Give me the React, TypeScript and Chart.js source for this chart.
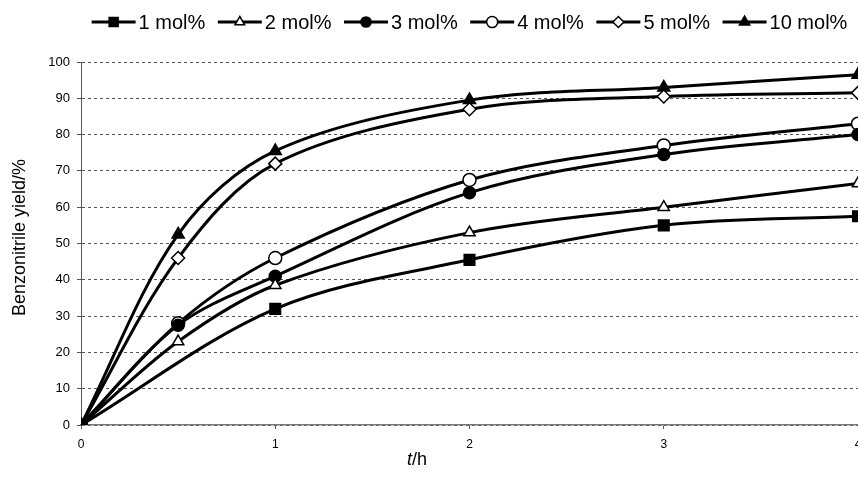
import React, { useEffect, useRef } from "react";
import { Chart, registerables } from "chart.js";
import { drawPoint } from "chart.js/helpers";

Chart.register(...registerables);

const hoursFull = [0, 0.5, 1, 2, 3, 4];
const hours1 = [0, 1, 2, 3, 4];
const yield1 = [0, 32, 45.5, 55, 57.5];
const yield2 = [0, 23, 38.5, 53, 60, 66.5];
const yield3 = [0, 27.5, 41, 64, 74.5, 80];
const yield4 = [0, 28, 46, 67.5, 77, 83];
const yield5 = [0, 46, 72, 87, 90.5, 91.5];
const yield10 = [0, 52.5, 75.5, 89.5, 93, 96.5];
const seriesLabels = ["1 mol%", "2 mol%", "3 mol%", "4 mol%", "5 mol%", "10 mol%"];
const yTicks = [0, 10, 20, 30, 40, 50, 60, 70, 80, 90, 100];
const xTicks = [0, 1, 2, 3, 4];

const FONT = "'Liberation Sans', Arial, sans-serif";

const markerStyles = [
  { pointStyle: "rect", radius: 7.5, fill: "#000" },
  { pointStyle: "triangle", radius: 6.5, fill: "#fff" },
  { pointStyle: "circle", radius: 6, fill: "#000" },
  { pointStyle: "circle", radius: 6.5, fill: "#fff" },
  { pointStyle: "rectRot", radius: 6.5, fill: "#fff" },
  { pointStyle: "triangle", radius: 7, fill: "#000" },
];

const toPoints = (xs: number[], ys: number[]) => xs.map((x, i) => ({ x, y: ys[i] }));

const extrasPlugin = {
  id: "extras",
  afterDraw(chart: any) {
    const ctx = chart.ctx;
    const area = chart.chartArea;
    ctx.save();
    // legend
    ctx.font = `20px ${FONT}`;
    ctx.textBaseline = "middle";
    const lineLen = 44;
    const gap = 3;
    const itemGap = 12.5;
    const widths = seriesLabels.map((l) => ctx.measureText(l).width);
    const total = widths.reduce((a, w) => a + lineLen + gap + w, 0) + itemGap * (seriesLabels.length - 1);
    let x = (area.left + area.right) / 2 - total / 2;
    const ly = 22;
    seriesLabels.forEach((label, i) => {
      ctx.strokeStyle = "#000";
      ctx.lineWidth = 3;
      ctx.beginPath();
      ctx.moveTo(x, ly);
      ctx.lineTo(x + lineLen, ly);
      ctx.stroke();
      const m = markerStyles[i];
      ctx.fillStyle = m.fill;
      ctx.strokeStyle = "#000";
      ctx.lineWidth = 1.5;
      drawPoint(ctx, { pointStyle: m.pointStyle, rotation: 0, borderWidth: 1.5, radius: m.radius * 0.85 }, x + lineLen / 2, ly);
      ctx.fillStyle = "#000";
      ctx.textAlign = "left";
      ctx.fillText(label, x + lineLen + gap, ly + 1);
      x += lineLen + gap + widths[i] + itemGap;
    });
    // y axis title
    ctx.save();
    ctx.translate(20, (area.top + area.bottom) / 2 - 6);
    ctx.rotate(-Math.PI / 2);
    ctx.font = `18px ${FONT}`;
    ctx.textAlign = "center";
    ctx.textBaseline = "middle";
    ctx.fillStyle = "#000";
    ctx.fillText("Benzonitrile yield/%", 0, 0);
    ctx.restore();
    // x axis title: italic t, then /h
    const xs = chart.scales.x;
    const cx = xs.getPixelForValue(1.73);
    const ty = 460;
    ctx.textBaseline = "middle";
    ctx.font = `italic 18px ${FONT}`;
    const wT = ctx.measureText("t").width;
    ctx.font = `18px ${FONT}`;
    const wH = ctx.measureText("/h").width;
    const start = cx - (wT + wH) / 2;
    ctx.textAlign = "left";
    ctx.fillStyle = "#000";
    ctx.font = `italic 18px ${FONT}`;
    ctx.fillText("t", start, ty);
    ctx.font = `18px ${FONT}`;
    ctx.fillText("/h", start + wT, ty);
    ctx.restore();
  },
};

function makeDataset(i: number, xs: number[], ys: number[]) {
  const m = markerStyles[i];
  return {
    label: seriesLabels[i],
    data: toPoints(xs, ys),
    borderColor: "#000",
    borderWidth: 3,
    tension: 0.33,
    pointStyle: m.pointStyle,
    pointRadius: m.radius,
    pointBackgroundColor: m.fill,
    pointBorderColor: "#000",
    pointBorderWidth: 1.5,
    fill: false,
  };
}

export default function App() {
  const ref = useRef<HTMLCanvasElement>(null);
  useEffect(() => {
    document.body.style.margin = "0";
    const canvas = ref.current!;
    const chart = new Chart(canvas, {
      type: "line",
      data: {
        datasets: [
          makeDataset(0, hours1, yield1),
          makeDataset(1, hoursFull, yield2),
          makeDataset(2, hoursFull, yield3),
          makeDataset(3, hoursFull, yield4),
          makeDataset(4, hoursFull, yield5),
          makeDataset(5, hoursFull, yield10),
        ] as any,
      },
      options: {
        animation: false,
        responsive: false,
        devicePixelRatio: 1,
        layout: { autoPadding: false, padding: { top: 62, left: 0, right: 0, bottom: 0 } },
        plugins: {
          legend: { display: false },
          tooltip: { enabled: false },
        },
        scales: {
          x: {
            type: "linear",
            min: 0,
            max: 4,
            afterBuildTicks: (s: any) => {
              s.ticks = xTicks.map((v) => ({ value: v }));
            },
            ticks: {
              font: { family: FONT, size: 12 },
              color: "#000",
              padding: 8,
              maxRotation: 0,
            },
            grid: {
              drawOnChartArea: false,
              color: "#555",
              tickColor: "#555",
              tickLength: 4,
            },
            border: { color: "#777", width: 1.5 },
            afterFit: (s: any) => {
              s.height = 64;
              s.paddingLeft = 0;
              s.paddingRight = 0;
            },
          },
          y: {
            min: 0,
            max: 100,
            afterBuildTicks: (s: any) => {
              s.ticks = yTicks.map((v) => ({ value: v }));
            },
            ticks: {
              font: { family: FONT, size: 13 },
              color: "#000",
              padding: 7,
            },
            grid: {
              color: "#555",
              lineWidth: 1,
              tickColor: "#555",
              tickLength: 4,
              tickBorderDash: [],
            },
            border: { color: "#555", width: 1, dash: [3, 3] },
            afterFit: (s: any) => {
              s.width = 81;
              s.paddingTop = 0;
              s.paddingBottom = 0;
            },
          },
        },
      } as any,
      plugins: [extrasPlugin],
    });
    return () => chart.destroy();
  }, []);
  return (
    <div style={{ width: 858, height: 489 }}>
      <canvas ref={ref} width={858} height={489} />
    </div>
  );
}
